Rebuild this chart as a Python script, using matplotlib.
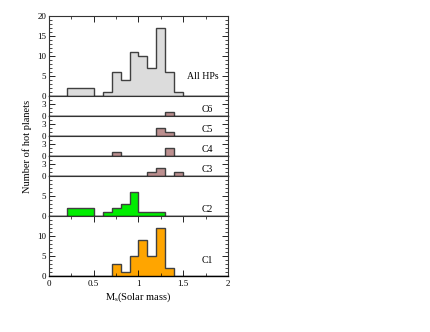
import matplotlib
matplotlib.use("Agg")
import matplotlib.pyplot as plt
import numpy as np
from matplotlib.ticker import MultipleLocator, FixedLocator

plt.rcParams['font.family'] = ['Liberation Serif', 'DejaVu Serif']

bin_edges = [round(0.1 * i, 1) for i in range(21)]  # 0.0 .. 2.0

panel_labels = ["All HPs", "C6", "C5", "C4", "C3", "C2", "C1"]
#            0.0 0.1 0.2 0.3 0.4 0.5 0.6 0.7 0.8 0.9 1.0 1.1 1.2 1.3 1.4 1.5 1.6 1.7 1.8 1.9
counts_all = [0, 0, 2, 2, 2, 0, 1, 6, 4, 11, 10, 7, 17, 6, 1, 0, 0, 0, 0, 0]
counts_c6 = [0, 0, 0, 0, 0, 0, 0, 0, 0, 0, 0, 0, 0, 1, 0, 0, 0, 0, 0, 0]
counts_c5 = [0, 0, 0, 0, 0, 0, 0, 0, 0, 0, 0, 0, 2, 1, 0, 0, 0, 0, 0, 0]
counts_c4 = [0, 0, 0, 0, 0, 0, 0, 1, 0, 0, 0, 0, 0, 2, 0, 0, 0, 0, 0, 0]
counts_c3 = [0, 0, 0, 0, 0, 0, 0, 0, 0, 0, 0, 1, 2, 0, 1, 0, 0, 0, 0, 0]
counts_c2 = [0, 0, 2, 2, 2, 0, 1, 2, 3, 6, 1, 1, 1, 0, 0, 0, 0, 0, 0, 0]
counts_c1 = [0, 0, 0, 0, 0, 0, 0, 3, 1, 5, 9, 5, 12, 2, 0, 0, 0, 0, 0, 0]

series = [counts_all, counts_c6, counts_c5, counts_c4, counts_c3, counts_c2, counts_c1]
ymax = [20, 5, 5, 5, 5, 10, 15]
yticks = [[0, 5, 10, 15, 20], [0, 3], [0, 3], [0, 3], [0, 3], [0, 5], [0, 5, 10]]
colors = ["#dcdcdc", "#bc8f8f", "#bc8f8f", "#bc8f8f", "#bc8f8f", "#00ee00", "#ffa500"]

# label anchor positions (axes fraction): x of right edge, y of centre
label_x = [0.95, 0.915, 0.915, 0.915, 0.915, 0.915, 0.915]
label_y = [0.24, 0.3, 0.3, 0.3, 0.3, 0.16, 0.25]

x_ticks = [0, 0.5, 1, 1.5, 2]
x_ticklabels = ["0", "0.5", "1", "1.5", "2"]

fig = plt.figure(figsize=(4.30, 3.32), dpi=100)
gs = fig.add_gridspec(len(series), 1, height_ratios=ymax, hspace=0,
                      left=0.114, right=0.530, top=0.952, bottom=0.169)

axes = []
for i, (vals, lab, ym, yt, col) in enumerate(zip(series, panel_labels, ymax, yticks, colors)):
    ax = fig.add_subplot(gs[i])
    axes.append(ax)
    ax.stairs(vals, bin_edges, fill=True, color=col, linewidth=0)
    ax.stairs(vals, bin_edges, fill=False, color="#404040", linewidth=1.0, baseline=0)
    ax.set_xlim(0, 2)
    ax.set_ylim(0, ym)
    ax.yaxis.set_major_locator(FixedLocator(yt))
    ax.yaxis.set_minor_locator(MultipleLocator(1))
    ax.tick_params(axis='y', which='both', direction='in', left=True, right=True,
                   labelsize=6.5, pad=2)
    ax.tick_params(axis='y', which='major', length=4, width=0.6)
    ax.tick_params(axis='y', which='minor', length=2, width=0.5)
    ax.xaxis.set_major_locator(FixedLocator(x_ticks))
    ax.xaxis.set_minor_locator(MultipleLocator(0.25))
    is_top = (i == 0)
    is_bottom = (i == len(series) - 1)
    ax.tick_params(axis='x', which='both', direction='in',
                   top=is_top or is_bottom, bottom=is_bottom,
                   labelbottom=is_bottom, labelsize=6.5, pad=3)
    ax.tick_params(axis='x', which='major', length=4, width=0.6)
    ax.tick_params(axis='x', which='minor', length=2, width=0.5)
    for side in ['left', 'right', 'top']:
        ax.spines[side].set_linewidth(0.8)
        ax.spines[side].set_color('#333333')
    ax.spines['bottom'].set_linewidth(1.0)
    ax.spines['bottom'].set_color('black')
    ax.text(label_x[i], label_y[i], lab, transform=ax.transAxes,
            ha='right', va='center', fontsize=7)

axes[-1].set_xticklabels(x_ticklabels)
axes[-1].set_xlabel(r"M$_\mathregular{s}$(Solar mass)", fontsize=7.5, labelpad=2)
fig.text(0.063, 0.56, "Number of hot planets", rotation=90, ha='center', va='center',
         fontsize=7.5)

fig.savefig("out.png", dpi=100)
